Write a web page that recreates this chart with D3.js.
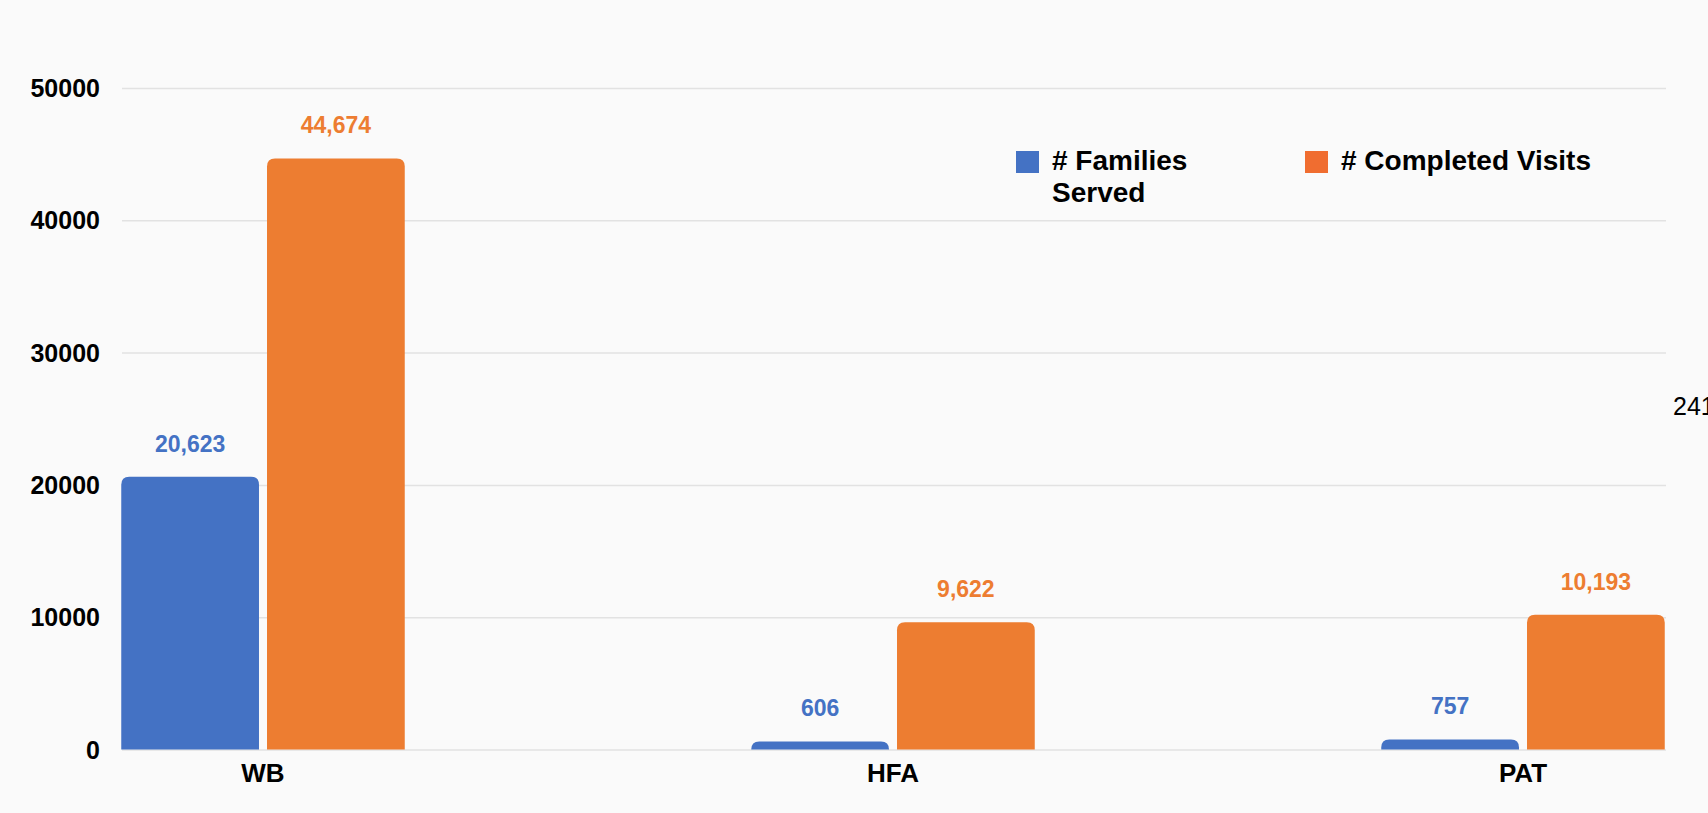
<!DOCTYPE html>
<html>
<head>
<meta charset="utf-8">
<script src="https://cdn.jsdelivr.net/npm/d3@7"></script>
<style>
  body { margin: 0; background: #fafafa; overflow: hidden; }
  svg { display: block; font-family: "Liberation Sans", Arial, sans-serif; }
  .grid line { stroke: #e2e2e2; stroke-width: 1.5; }
  .tick-label { font-weight: bold; font-size: 25px; fill: #000; }
  .value-label { font-weight: bold; font-size: 23px; text-anchor: middle; }
</style>
</head>
<body>
<svg id="chart"></svg>
<script>
// chart data
const programs = ['WB', 'HFA', 'PAT'];
const seriesNames = ['# Families Served', '# Completed Visits'];
const familiesServed = [20623, 606, 757];
const completedVisits = [44674, 9622, 10193];
const yTicks = [0, 10000, 20000, 30000, 40000, 50000];
const colors = ['#4472c4', '#ed7d31'];
const legendColors = ['#4472c4', '#f06d30'];

const width = 1708, height = 813;
const margin = {top: 88, bottom: 63.5, left: 122, right: 42};
const plotRight = width - margin.right;

const svg = d3.select('#chart')
    .attr('width', width)
    .attr('height', height);

const yScale = d3.scaleLinear()
    .domain([0, 50000])
    .range([height - margin.bottom, margin.top]);

// categories step ~630px, the chart is cropped at both sides
const xScale = d3.scaleBand()
    .domain(programs)
    .range([-52, 1838])
    .paddingInner(0.55)
    .paddingOuter(0.275);

const xSub = d3.scaleBand()
    .domain(d3.range(seriesNames.length))
    .range([0, xScale.bandwidth()])
    .paddingInner(0.055);

// gridlines
const yAxis = d3.axisLeft(yScale)
    .tickValues(yTicks)
    .tickSize(-(plotRight - margin.left))
    .tickFormat('');

svg.append('g')
    .attr('class', 'grid')
    .attr('transform', `translate(${margin.left},0)`)
    .call(yAxis)
    .call(g => g.select('.domain').remove());

// y tick labels
svg.append('g').selectAll('text')
    .data(yTicks)
  .join('text')
    .attr('class', 'tick-label')
    .attr('x', 100)
    .attr('y', d => yScale(d))
    .attr('dy', '0.36em')
    .attr('text-anchor', 'end')
    .text(d => d);

// bars with rounded tops
function topRounded(x, y, w, h, r) {
  r = Math.min(r, h, w / 2);
  return `M${x},${y + h}V${y + r}Q${x},${y} ${x + r},${y}H${x + w - r}Q${x + w},${y} ${x + w},${y + r}V${y + h}Z`;
}

const seriesData = [familiesServed, completedVisits];
const barData = [];
programs.forEach((p, i) => {
  seriesData.forEach((vals, s) => barData.push({program: p, s: s, value: vals[i]}));
});

const plot = svg.append('g');

plot.selectAll('.bar')
    .data(barData)
  .join('path')
    .attr('class', 'bar')
    .attr('fill', d => colors[d.s])
    .attr('d', d => {
      const x = xScale(d.program) + xSub(d.s);
      const y = yScale(d.value);
      return topRounded(x, y, xSub.bandwidth(), yScale(0) - y, 8);
    });

plot.selectAll('.value-label')
    .data(barData)
  .join('text')
    .attr('class', 'value-label')
    .attr('fill', d => colors[d.s])
    .attr('x', d => xScale(d.program) + xSub(d.s) + xSub.bandwidth() / 2)
    .attr('y', d => yScale(d.value) - 25)
    .text(d => d3.format(',')(d.value));

// x labels
svg.append('g').selectAll('text')
    .data(programs)
  .join('text')
    .attr('class', 'tick-label')
    .style('font-size', '26px')
    .attr('text-anchor', 'middle')
    .attr('x', d => xScale(d) + xScale.bandwidth() / 2)
    .attr('y', 782)
    .text(d => d);

// legend
const legend = svg.append('g');
const legendItems = [
  {x: 1016, lines: ['# Families', 'Served']},
  {x: 1305, lines: ['# Completed Visits']}
];
legendItems.forEach((item, i) => {
  legend.append('rect')
      .attr('x', item.x)
      .attr('y', 151)
      .attr('width', 23)
      .attr('height', 22)
      .attr('fill', legendColors[i]);
  item.lines.forEach((line, j) => {
    legend.append('text')
        .attr('x', item.x + 36)
        .attr('y', 170 + j * 32)
        .attr('font-size', 28)
        .attr('font-weight', 'bold')
        .text(line);
  });
});

// stray cropped label at the right edge
svg.append('text')
    .attr('x', 1673)
    .attr('y', 415)
    .attr('font-size', 25)
    .attr('fill', '#000')
    .text('241');
</script>
</body>
</html>
